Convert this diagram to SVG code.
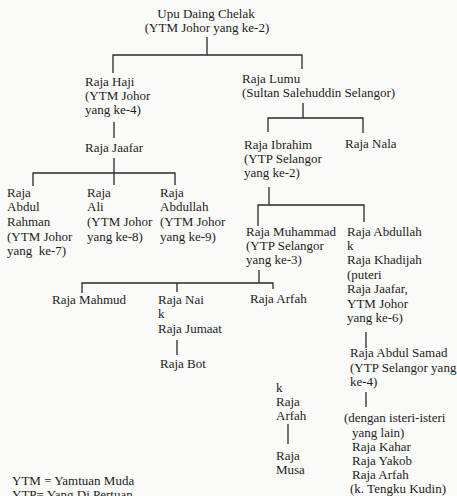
<svg xmlns="http://www.w3.org/2000/svg" width="457" height="496" viewBox="0 0 457 496">
<style>
text{font-family:"Liberation Serif","Times New Roman",serif;font-size:13px;fill:#1c1c1c}
.c{text-anchor:middle}
.ln{stroke:#2a2a2a;stroke-width:1.3;fill:none}
</style>
<rect width="457" height="496" fill="#fafaf9"/>
<g id="connectors" class="ln">
<path d="M207,37V55M113,73V55H302V69"/>
<path d="M114,122V138"/>
<path d="M114,158V185M33,186V173H175V185"/>
<path d="M303,103V118M268,132V118H363V133"/>
<path d="M269,187V205M258,226V205H364V222"/>
<path d="M259,270V283M82,293V283H273V289M177,283V292"/>
<path d="M177,340V355"/>
<path d="M366,332V348"/>
<path d="M366,392V407"/>
<path d="M288,424V444"/>
</g>
<g id="upu"><text class="c" x="206" y="18">Upu Daing Chelak</text><text class="c" x="207" y="32">(YTM Johor yang ke-2)</text></g>
<g id="raja-haji"><text x="85" y="86">Raja Haji</text><text x="85" y="100">(YTM Johor</text><text x="85" y="114">yang ke-4)</text></g>
<g id="raja-jaafar"><text x="85" y="152">Raja Jaafar</text></g>
<g id="raja-lumu"><text x="242" y="83">Raja Lumu</text><text x="242" y="97">(Sultan Salehuddin Selangor)</text></g>
<g id="raja-ibrahim"><text x="244" y="149">Raja Ibrahim</text><text x="244" y="163">(YTP Selangor</text><text x="244" y="177">yang ke-2)</text></g>
<g id="raja-nala"><text x="345" y="148">Raja Nala</text></g>
<g id="raja-abdul-rahman"><text x="7" y="197">Raja</text><text x="7" y="211">Abdul</text><text x="7" y="226">Rahman</text><text x="7" y="241">(YTM Johor</text><text x="7" y="255" xml:space="preserve">yang  ke-7)</text></g>
<g id="raja-ali"><text x="87" y="197">Raja</text><text x="87" y="211">Ali</text><text x="87" y="226">(YTM Johor</text><text x="87" y="241">yang ke-8)</text></g>
<g id="raja-abdullah-johor"><text x="160" y="197">Raja</text><text x="160" y="211">Abdullah</text><text x="160" y="226">(YTM Johor</text><text x="160" y="241">yang ke-9)</text></g>
<g id="raja-muhammad"><text x="246" y="236">Raja Muhammad</text><text x="246" y="250">(YTP Selangor</text><text x="246" y="264">yang ke-3)</text></g>
<g id="raja-abdullah"><text x="347" y="236">Raja Abdullah</text><text x="347" y="250">k</text><text x="347" y="264">Raja Khadijah</text><text x="347" y="279">(puteri</text><text x="347" y="293">Raja Jaafar,</text><text x="347" y="308">YTM Johor</text><text x="347" y="322">yang ke-6)</text></g>
<g id="raja-mahmud"><text x="52" y="304">Raja Mahmud</text></g>
<g id="raja-nai"><text x="158" y="304">Raja Nai</text><text x="158" y="318">k</text><text x="158" y="333">Raja Jumaat</text></g>
<g id="raja-bot"><text x="160" y="368">Raja Bot</text></g>
<g id="raja-arfah"><text x="250" y="303">Raja Arfah</text></g>
<g id="raja-abdul-samad"><text x="350" y="357">Raja Abdul Samad</text><text x="350" y="372">(YTP Selangor yang</text><text x="350" y="386">ke-4)</text></g>
<g id="k-raja-arfah"><text x="276" y="392">k</text><text x="276" y="406">Raja</text><text x="276" y="420">Arfah</text></g>
<g id="raja-musa"><text x="276" y="460">Raja</text><text x="276" y="474">Musa</text></g>
<g id="isteri-lain"><text x="344" y="422">(dengan isteri-isteri</text><text x="352" y="437">yang lain)</text><text x="352" y="451">Raja Kahar</text><text x="352" y="465">Raja Yakob</text><text x="352" y="479">Raja Arfah</text><text x="350" y="493">(k. Tengku Kudin)</text></g>
<g id="legend"><text x="12" y="485">YTM = Yamtuan Muda</text><text x="12" y="499">YTP= Yang Di Pertuan</text></g>
</svg>
